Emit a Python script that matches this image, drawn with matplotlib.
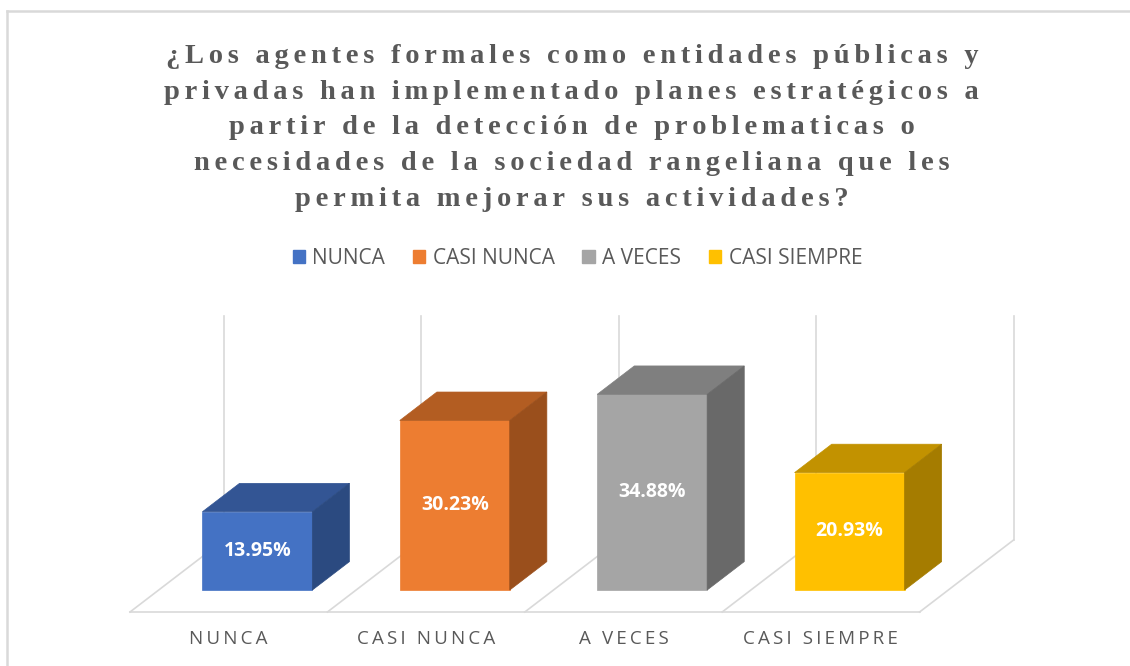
import matplotlib

matplotlib.use("Agg")
import matplotlib.pyplot as plt  # noqa: E402
from matplotlib.lines import Line2D  # noqa: E402
from matplotlib.patches import Patch, Polygon  # noqa: E402

# Data.
categories = ["NUNCA", "CASI NUNCA", "A VECES", "CASI SIEMPRE"]
values = [13.95, 30.23, 34.88, 20.93]
value_labels = ["13.95%", "30.23%", "34.88%", "20.93%"]
axis_max = 40

FRONT = ["#4472C4", "#ED7D31", "#A5A5A5", "#FFC000"]
TOP = ["#335594", "#B35D22", "#7F7F7F", "#C29200"]
SIDE = ["#2B4A80", "#9A4F1C", "#696969", "#A57C00"]
GRID = "#D9D9D9"
INK = "#595959"

TITLE = ("¿Los agentes formales como entidades públicas y\n"
         "privadas han implementado planes estratégicos a\n"
         "partir de la detección de problematicas o\n"
         "necesidades de la sociedad rangeliana que les\n"
         "permita mejorar sus actividades?")

# oblique projection of the 3D floor: depth offset in data units
DEPTH_X = 0.476   # category units
DEPTH_Y = 12.83   # percent units
BAR_D0, BAR_D1 = 0.305, 0.70
BAR_W = 0.557


def spaced(s, gap="\u200a"):
    return gap.join(s)


fig = plt.figure(figsize=(11.3, 6.66), dpi=100)
fig.patch.set_facecolor("white")
ax = fig.add_axes([0, 0, 1, 1])
ax.set_xlim(-0.6586, 5.0659)
ax.set_ylim(-9.626, 109.09)
ax.axis("off")

n = len(categories)

# floor and back wall grid
ax.plot([0, n], [0, 0], color=GRID, lw=1.2, zorder=1)
for i in range(n + 1):
    ax.plot([i, i + DEPTH_X], [0, DEPTH_Y], color=GRID, lw=1.2, zorder=1)
    ax.plot([i + DEPTH_X, i + DEPTH_X], [DEPTH_Y, DEPTH_Y + axis_max],
            color=GRID, lw=1.2, zorder=1)

# bars: front faces through ax.bar, top and side faces as polygons
base = DEPTH_Y * BAR_D0
shift_x = DEPTH_X * BAR_D0
centers = [i + 0.5 + shift_x for i in range(n)]
ax.bar(centers, values, bottom=base, width=BAR_W, color=FRONT,
       edgecolor=FRONT, linewidth=0.5, zorder=3)

dx = DEPTH_X * (BAR_D1 - BAR_D0)
dy = DEPTH_Y * (BAR_D1 - BAR_D0)
for c, v, top, side in zip(centers, values, TOP, SIDE):
    left, right = c - BAR_W / 2, c + BAR_W / 2
    yt = base + v
    ax.add_patch(Polygon([(left, yt), (right, yt), (right + dx, yt + dy),
                          (left + dx, yt + dy)], closed=True,
                         facecolor=top, edgecolor=top, lw=0.5, zorder=3))
    ax.add_patch(Polygon([(right, base), (right + dx, base + dy),
                          (right + dx, yt + dy), (right, yt)], closed=True,
                         facecolor=side, edgecolor=side, lw=0.5, zorder=3))

for c, v, lab in zip(centers, values, value_labels):
    ax.text(c, base + v / 2, lab, ha="center", va="center", color="white",
            fontsize=14, fontweight="bold", family=["Open Sans", "DejaVu Sans"],
            zorder=4)

for i, cat in enumerate(categories):
    ax.text(i + 0.5, -4.8, spaced(cat, "\u2009"), ha="center", va="center",
            color=INK, fontsize=13.5, family=["Open Sans", "DejaVu Sans"])

# title, letter-spaced like the original
title = "\n".join(spaced(line, "\u200a" * 2) for line in TITLE.split("\n"))
fig.text(0.506, 1 - 128 / 666, title, ha="center", va="center",
         multialignment="center", color=INK, fontsize=20.5, fontweight="bold",
         family=["Liberation Serif", "DejaVu Serif"], linespacing=1.57)

# legend
handles = [Patch(facecolor=f, edgecolor=f) for f in FRONT]
fig.legend(handles, categories, loc="center", bbox_to_anchor=(0.511, 1 - 258 / 666),
           ncol=4, frameon=False, handlelength=0.6, handleheight=0.6,
           handletextpad=0.35, columnspacing=1.33,
           prop={"family": "Open Sans", "size": 15}, labelcolor=INK)

# chart border
fig.add_artist(Line2D([7 / 1130, 7 / 1130], [0, 1 - 11 / 666],
                      transform=fig.transFigure, color=GRID, lw=1.8))
fig.add_artist(Line2D([7 / 1130, 1], [1 - 11 / 666, 1 - 11 / 666],
                      transform=fig.transFigure, color=GRID, lw=1.8))

fig.savefig("out.png", dpi=100, facecolor="white")
